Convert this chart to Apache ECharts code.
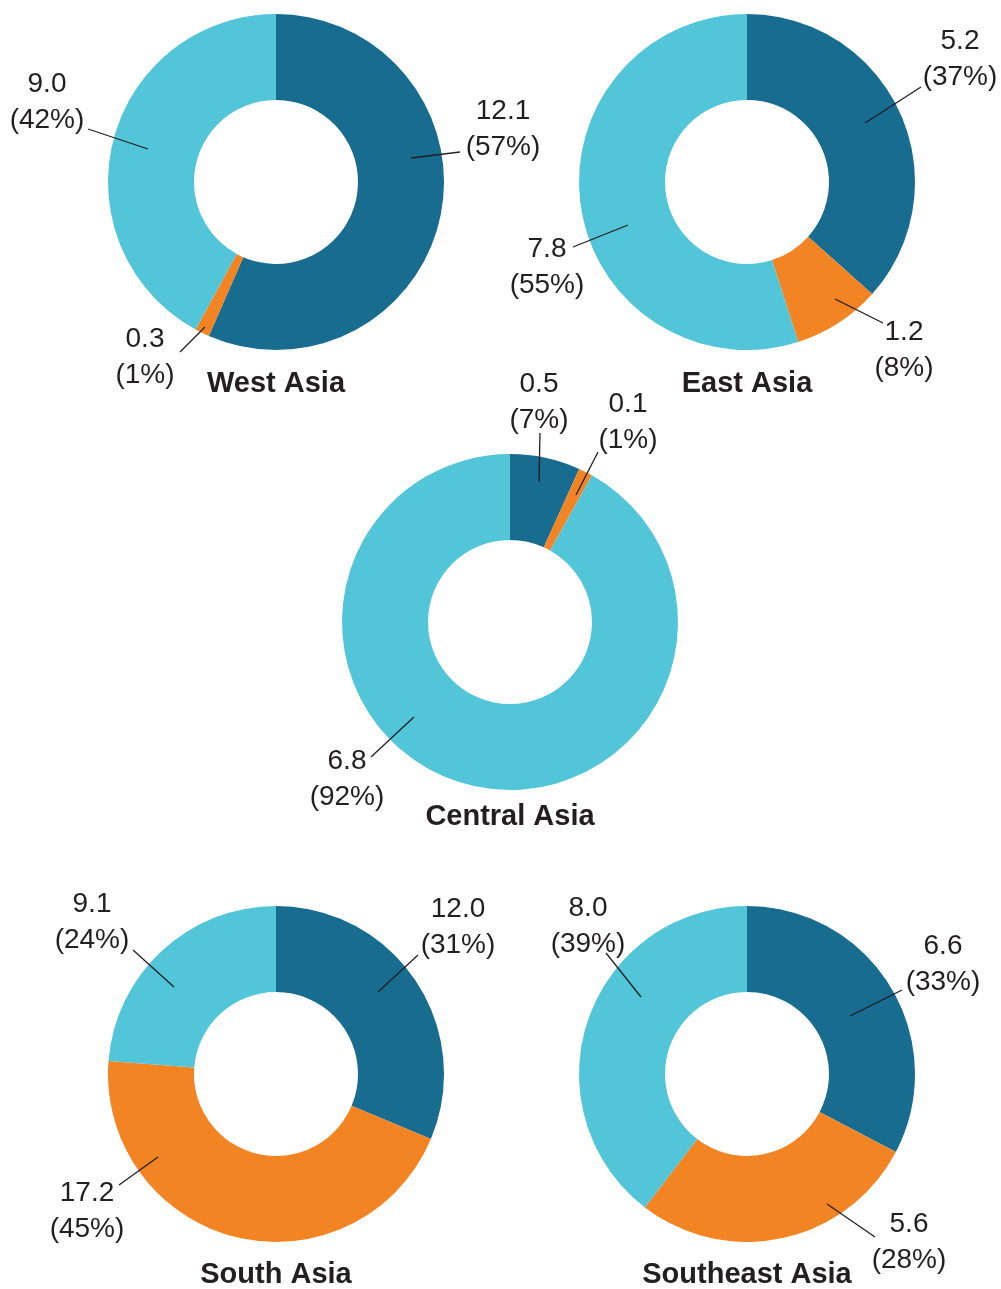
<!doctype html>
<html lang="en">
<head>
  <meta charset="utf-8">
  <title>Asia donuts</title>
  <script src="https://cdn.jsdelivr.net/npm/echarts@6/dist/echarts.min.js"></script>
  <style>
    html, body { margin: 0; padding: 0; background: #ffffff; }
    #main { width: 1001px; height: 1289px; }
  </style>
</head>
<body>
  <div id="main"></div>
  <script type="text/javascript">
    // data
    const regions = ['West Asia', 'East Asia', 'Central Asia', 'South Asia', 'Southeast Asia'];
    const segments = ['Segment 1', 'Segment 2', 'Segment 3'];
    const westAsia = [12.1, 0.3, 9.0];
    const eastAsia = [5.2, 1.2, 7.8];
    const centralAsia = [0.5, 0.1, 6.8];
    const southAsia = [12.0, 17.2, 9.1];
    const southeastAsia = [6.6, 5.6, 8.0];
    const westPct = [57, 1, 42];
    const eastPct = [37, 8, 55];
    const centralPct = [7, 1, 92];
    const southPct = [31, 45, 24];
    const southeastPct = [33, 28, 39];

    const values = [westAsia, eastAsia, centralAsia, southAsia, southeastAsia];
    const pcts = [westPct, eastPct, centralPct, southPct, southeastPct];

    // layout
    const colors = ['#176c8f', '#f38423', '#53c5d8'];
    const textColor = '#231f20';
    const fontFamily = '"Liberation Sans", Arial, Helvetica, sans-serif';
    const centers = [[276, 182], [747, 182], [510, 622], [276, 1074], [747, 1074]];
    const titleY = [384, 384, 817, 1275, 1275];
    // per slice, offsets from the pie centre: line start x,y, line end x,y, label centre x,y
    const labelSpots = [
      [[135, -24, 184, -30, 227, -53], [-71, 145, -96, 170, -131, 175], [-128, -33, -188, -53, -229, -80]],
      [[118, -59, 174, -95, 213, -123], [88, 117, 136, 141, 157, 168], [-119, 43, -174, 65, -200, 85]],
      [[29, -140, 30, -189, 29, -220], [66, -127, 88, -170, 118, -200], [-96, 95, -139, 135, -163, 157]],
      [[102, -82, 142, -119, 182, -147], [-118, 83, -157, 111, -189, 137], [-102, -87, -143, -124, -184, -152]],
      [[103, -58, 155, -84, 196, -110], [80, 130, 128, 163, 162, 168], [-106, -77, -141, -121, -159, -148]]
    ];

    const chart = echarts.init(document.getElementById('main'));

    const series = [];
    regions.forEach((name, i) => {
      const base = {
        type: 'pie',
        name: name,
        center: centers[i],
        radius: [82, 168],
        startAngle: 90,
        clockwise: true,
        avoidLabelOverlap: false,
        silent: true,
        animation: false
      };
      // coloured ring
      series.push(Object.assign({}, base, {
        z: 2,
        data: values[i].map((v, j) => ({ name: segments[j], value: v, itemStyle: { color: colors[j] } })),
        label: { show: false },
        labelLine: { show: false }
      }));
      // same ring, invisible, carrying labels and leader lines on top
      series.push(Object.assign({}, base, {
        z: 5,
        data: values[i].map((v, j) => ({ name: segments[j], value: v, itemStyle: { color: 'rgba(0,0,0,0)' } })),
        label: {
          show: true,
          position: 'outside',
          formatter: (p) => p.value.toFixed(1) + '\n(' + pcts[i][p.dataIndex] + '%)',
          fontSize: 28,
          lineHeight: 36,
          color: textColor,
          fontFamily: fontFamily
        },
        labelLine: {
          show: true,
          showAbove: true,
          length: 10,
          length2: 10,
          lineStyle: { color: textColor, width: 1.3 }
        },
        labelLayout: (p) => {
          const c = centers[i];
          const o = labelSpots[i][p.dataIndex];
          const sx = c[0] + o[0], sy = c[1] + o[1];
          const ex = c[0] + o[2], ey = c[1] + o[3];
          return {
            x: c[0] + o[4],
            y: c[1] + o[5],
            align: 'center',
            verticalAlign: 'middle',
            labelLinePoints: [[sx, sy], [(sx + ex) / 2, (sy + ey) / 2], [ex, ey]]
          };
        }
      }));
    });

    const titles = regions.map((name, i) => ({
      type: 'text',
      x: centers[i][0],
      y: titleY[i],
      style: {
        text: name,
        align: 'center',
        verticalAlign: 'middle',
        fontSize: 29,
        fontWeight: 'bold',
        fontFamily: fontFamily,
        fill: textColor
      }
    }));

    chart.setOption({
      animation: false,
      series: series,
      graphic: titles
    });
  </script>
</body>
</html>
